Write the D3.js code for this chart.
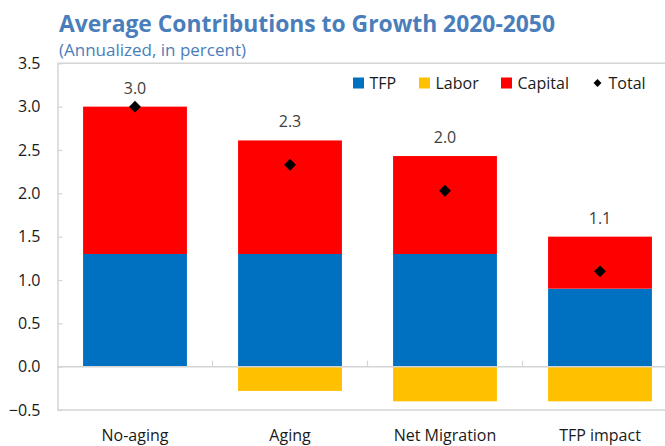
<!DOCTYPE html>
<html>
<head>
<meta charset="utf-8">
<script src="https://cdn.jsdelivr.net/npm/d3@7"></script>
<style>
  html, body { margin: 0; padding: 0; background: #fff; }
  svg { display: block; font-family: "Open Sans", "Noto Sans", sans-serif; }
</style>
</head>
<body>
<svg id="chart" width="665" height="446"></svg>
<script>
// Growth decomposition by scenario, 2020-2050 (percent, annualized)
const categories = ["No-aging", "Aging", "Net Migration", "TFP impact"];
const tfp     = [1.30, 1.30, 1.30, 0.90];
const labor   = [0.00, -0.28, -0.40, -0.40];
const capital = [1.70, 1.31, 1.13, 0.60];
const yTicks  = [-0.5, 0.0, 0.5, 1.0, 1.5, 2.0, 2.5, 3.0, 3.5];

const seriesNames  = ["TFP", "Labor", "Capital"];
const seriesColors = ["#0070C0", "#FFC000", "#FF0000"];

const svg = d3.select("#chart");

const x = d3.scaleBand()
  .domain(categories)
  .range([57.5, 677.5])
  .paddingInner(0.33)
  .paddingOuter(0.165);

const y = d3.scaleLinear().domain([-0.5, 3.5]).range([410, 63.3]);

const rows = categories.map((c, i) => ({
  cat: c, TFP: tfp[i], Labor: labor[i], Capital: capital[i],
  total: tfp[i] + labor[i] + capital[i]
}));

// Title block
svg.append("text")
  .attr("x", 59).attr("y", 31.5)
  .attr("fill", "#4A7EBB")
  .attr("font-weight", 700)
  .attr("font-size", 22.5)
  .attr("textLength", 496)
  .attr("lengthAdjust", "spacingAndGlyphs")
  .text("Average Contributions to Growth 2020-2050");
svg.append("text")
  .attr("x", 59).attr("y", 56)
  .attr("fill", "#4A7EBB")
  .attr("font-size", 16)
  .attr("textLength", 187)
  .attr("lengthAdjust", "spacingAndGlyphs")
  .text("(Annualized, in percent)");

// Frame lines
const frame = "#D4D4D4";
svg.append("line").attr("x1", 57.5).attr("x2", 665).attr("y1", y(3.5)).attr("y2", y(3.5))
  .attr("stroke", frame).attr("stroke-width", 1.5);
svg.append("line").attr("x1", 57.5).attr("x2", 665).attr("y1", y(-0.5)).attr("y2", y(-0.5))
  .attr("stroke", frame).attr("stroke-width", 1.5);

// Stacked bars (diverging: negatives stack below zero)
const stack = d3.stack().keys(seriesNames).offset(d3.stackOffsetDiverging);
const layers = stack(rows);

svg.append("g").selectAll("g")
  .data(layers)
  .join("g")
  .attr("fill", (d, i) => seriesColors[i])
  .selectAll("rect")
  .data(d => d.filter(s => s[1] !== s[0]))
  .join("rect")
  .attr("x", d => x(d.data.cat))
  .attr("width", x.bandwidth())
  .attr("y", d => y(Math.max(d[0], d[1])))
  .attr("height", d => Math.abs(y(d[0]) - y(d[1])));

// Y axis
const yAxis = d3.axisLeft(y)
  .tickValues(yTicks)
  .tickFormat(d3.format(".1f"))
  .tickSizeInner(-5)
  .tickSizeOuter(0)
  .tickPadding(17);
const gy = svg.append("g").attr("transform", "translate(57.5,0)").call(yAxis);
gy.select(".domain").attr("stroke", frame).attr("stroke-width", 1.5);
gy.selectAll(".tick line").attr("stroke", frame).attr("stroke-width", 1.2);
gy.selectAll(".tick text").attr("font-size", 16).attr("fill", "#1a1a1a")
  .attr("font-family", "'Open Sans', sans-serif");

// Zero line with category separators
const gx = svg.append("g").attr("transform", `translate(0,${y(0)})`);
gx.append("line").attr("x1", 57.5).attr("x2", 665).attr("stroke", frame).attr("stroke-width", 1.5);
const step = x.step();
const seps = categories.slice(1).map(c => x(c) - (step - x.bandwidth()) / 2);
gx.selectAll("line.sep").data(seps).join("line").attr("class", "sep")
  .attr("x1", d => d).attr("x2", d => d).attr("y1", 0).attr("y2", -6)
  .attr("stroke", frame).attr("stroke-width", 1.2);

// Category labels
svg.append("g").selectAll("text")
  .data(categories)
  .join("text")
  .attr("x", d => x(d) + x.bandwidth() / 2)
  .attr("y", 441)
  .attr("text-anchor", "middle")
  .attr("font-size", 16)
  .attr("fill", "#1a1a1a")
  .text(d => d);

// Total markers
const diamond = d3.symbol().type(d3.symbolDiamond2).size(90);
svg.append("g").selectAll("path")
  .data(rows)
  .join("path")
  .attr("transform", d => `translate(${x(d.cat) + x.bandwidth() / 2},${y(d.total)})`)
  .attr("d", diamond)
  .attr("fill", "#000");

// Total value labels above the stack
svg.append("g").selectAll("text")
  .data(rows)
  .join("text")
  .attr("x", d => x(d.cat) + x.bandwidth() / 2)
  .attr("y", d => y(d.TFP + d.Capital) - 13)
  .attr("text-anchor", "middle")
  .attr("font-size", 16)
  .attr("fill", "#404040")
  .text(d => d.total.toFixed(1));

// Legend
const legendItems = [
  { name: "TFP", color: seriesColors[0], x: 353 },
  { name: "Labor", color: seriesColors[1], x: 419 },
  { name: "Capital", color: seriesColors[2], x: 501 },
  { name: "Total", color: "#000", x: 592, marker: true }
];
const lg = svg.append("g");
legendItems.forEach(it => {
  if (it.marker) {
    lg.append("path")
      .attr("transform", `translate(${it.x + 5.5},83)`)
      .attr("d", d3.symbol().type(d3.symbolDiamond2).size(40)())
      .attr("fill", it.color);
  } else {
    lg.append("rect").attr("x", it.x).attr("y", 77.5).attr("width", 11).attr("height", 11)
      .attr("fill", it.color);
  }
  lg.append("text").attr("x", it.x + 16.5).attr("y", 89).attr("font-size", 16)
    .attr("fill", "#1a1a1a").text(it.name);
});
</script>
</body>
</html>
